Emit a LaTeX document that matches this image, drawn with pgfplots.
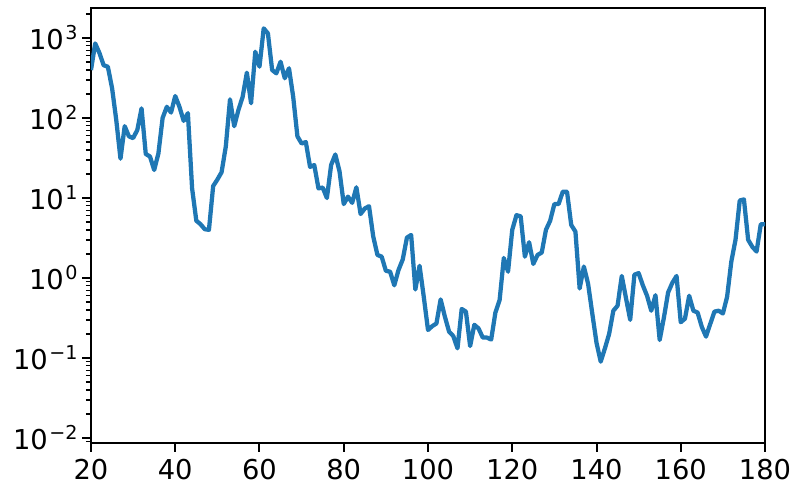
\documentclass[border=0pt]{standalone}
\usepackage{fontspec}
\setmainfont{DejaVu Sans}
\usepackage{pgfplots}
\pgfplotsset{compat=1.18}
\definecolor{mplblue}{HTML}{1F77B4}
\newcommand{\pw}[1]{10\kern1.2pt\textsuperscript{#1}}
\begin{document}
\begin{tikzpicture}
\useasboundingbox (-68.25pt,-42.75pt) rectangle (531.75pt,332.25pt);
\begin{axis}[
  scale only axis,
  width=505.5pt, height=326.25pt,
  ymode=log,
  xmin=20, xmax=180,
  ymin=0.00866, ymax=2371,
  xtick={20,40,...,180},
  ytick={0.01,0.1,1,10,100,1000},
  yticklabels={\pw{−2},\pw{−1},\pw{0},\pw{1},\pw{2},\pw{3}},
  minor ytick={0.009,0.02,0.03,0.04,0.05,0.06,0.07,0.08,0.09,0.2,0.3,0.4,0.5,0.6,0.7,0.8,0.9,2,3,4,5,6,7,8,9,20,30,40,50,60,70,80,90,200,300,400,500,600,700,800,900,2000},
  xtick pos=bottom, ytick pos=left,
  tick align=outside,
  major tick length=6.5pt,
  minor tick length=3.8pt,
  every major tick/.style={line width=1.5pt, black},
  every minor tick/.style={line width=1.1pt, black},
  axis line style={line width=1.5pt},
  /pgf/number format/assume math mode=true,
  ticklabel style={font=\fontsize{20.5}{24}\selectfont},
  xticklabel style={yshift=-2.5pt},
  yticklabel style={xshift=0.5pt},
]
\addplot[mplblue, line width=3.2pt, line join=round] coordinates {
(20,398)(21,855)(22,650)(23,457)(24,437)(25,237)(26,94)(27,31)(28,79)(29,59)
(30,56)(31,71)(32,132)(33,35.5)(34,33)(35,22.4)(36,36)(37,100)(38,138)(39,117)
(40,188)(41,138)(42,92)(43,115)(44,13.2)(45,5.2)(46,4.7)(47,4.07)(48,4.0)(49,14.1)
(50,17)(51,21)(52,44)(53,171)(54,79)(55,126)(56,184)(57,369)(58,153)(59,673)
(60,438)(61,1320)(62,1140)(63,398)(64,362)(65,505)(66,314)(67,418)(68,184)(69,59)
(70,48)(71,50)(72,24.5)(73,25.8)(74,13.2)(75,13.5)(76,10)(77,25.8)(78,35)(79,21.5)
(80,8.4)(81,10.4)(82,8.7)(83,13.6)(84,6.3)(85,7.4)(86,7.9)(87,3.3)(88,1.94)(89,1.85)
(90,1.23)(91,1.2)(92,0.81)(93,1.26)(94,1.7)(95,3.2)(96,3.45)(97,0.72)(98,1.42)(99,0.58)
(100,0.224)(101,0.25)(102,0.27)(103,0.54)(104,0.33)(105,0.214)(106,0.188)(107,0.132)(108,0.41)(109,0.38)
(110,0.141)(111,0.26)(112,0.234)(113,0.18)(114,0.18)(115,0.17)(116,0.37)(117,0.53)(118,1.78)(119,1.2)
(120,4.0)(121,6.1)(122,5.9)(123,1.85)(124,2.8)(125,1.5)(126,1.94)(127,2.08)(128,4.0)(129,5.2)
(130,8.4)(131,8.4)(132,12)(133,12)(134,4.6)(135,3.8)(136,0.74)(137,1.39)(138,0.85)(139,0.36)
(140,0.155)(141,0.09)(142,0.132)(143,0.2)(144,0.39)(145,0.45)(146,1.06)(147,0.56)(148,0.30)(149,1.1)
(150,1.15)(151,0.81)(152,0.6)(153,0.39)(154,0.61)(155,0.168)(156,0.32)(157,0.66)(158,0.87)(159,1.06)
(160,0.28)(161,0.31)(162,0.6)(163,0.39)(164,0.37)(165,0.245)(166,0.185)(167,0.266)(168,0.38)(169,0.39)
(170,0.36)(171,0.58)(172,1.6)(173,3.0)(174,9.3)(175,9.6)(176,3.0)(177,2.45)(178,2.14)(179,4.7)
(180,4.7)
};
\end{axis}
\end{tikzpicture}
\end{document}
